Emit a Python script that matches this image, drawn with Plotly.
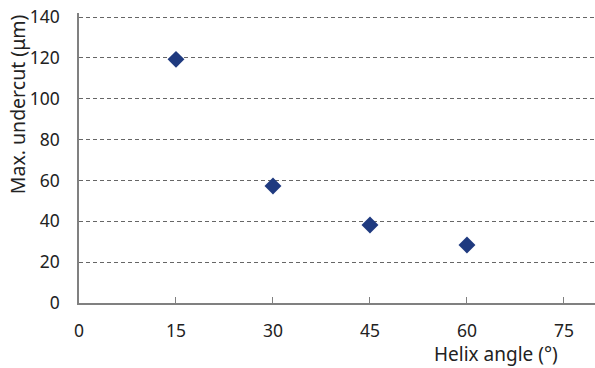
import plotly.graph_objects as go

helix_angle = [15, 30, 45, 60]
max_undercut = [119.3, 57.3, 38.2, 28.4]
x_ticks = [0, 15, 30, 45, 60, 75]
y_ticks = [0, 20, 40, 60, 80, 100, 120, 140]

font_family = "Noto Sans, Open Sans, sans-serif"

fig = go.Figure()
fig.add_trace(go.Scatter(
    x=helix_angle, y=max_undercut, mode="markers",
    marker=dict(symbol="diamond", size=13, color="#1f3a7f"),
    showlegend=False, cliponaxis=False,
))

fig.update_layout(
    width=595, height=368,
    margin=dict(l=79, r=0, t=13, b=65, autoexpand=False),
    plot_bgcolor="white", paper_bgcolor="white",
    font=dict(family=font_family, size=17.5, color="#222222"),
    xaxis=dict(
        range=[0, 79.8], tickvals=x_ticks, ticks="inside", ticklen=6,
        tickcolor="#808080", showline=True, linecolor="#808080", linewidth=1.5,
        showgrid=False, zeroline=False, tickfont=dict(size=17.5), automargin=False,
        ticklabelstandoff=11, ticklabeloverflow="allow",
    ),
    yaxis=dict(
        range=[0, 142], tickvals=y_ticks, ticks="", showline=True,
        linecolor="#808080", linewidth=1.5, showgrid=True, gridcolor="#666666",
        griddash="4px,3px", gridwidth=1, zeroline=False, tickfont=dict(size=17.5),
        ticklabelstandoff=14, automargin=False, ticklabeloverflow="allow",
    ),
    annotations=[
        dict(text="Helix angle (°)", xref="paper", yref="paper", x=0.932, y=-0.175,
             xanchor="right", yanchor="middle", showarrow=False,
             font=dict(size=19, family=font_family)),
        dict(text="Max. undercut (μm)", xref="paper", yref="paper", x=-0.12, y=1.003,
             xanchor="center", yanchor="top", textangle=-90, showarrow=False,
             font=dict(size=19.5, family=font_family)),
    ],
)

fig.write_html(
    "out.html",
    config={"displayModeBar": False},
    post_script="document.body.style.margin='0';document.body.style.overflow='hidden';",
)
